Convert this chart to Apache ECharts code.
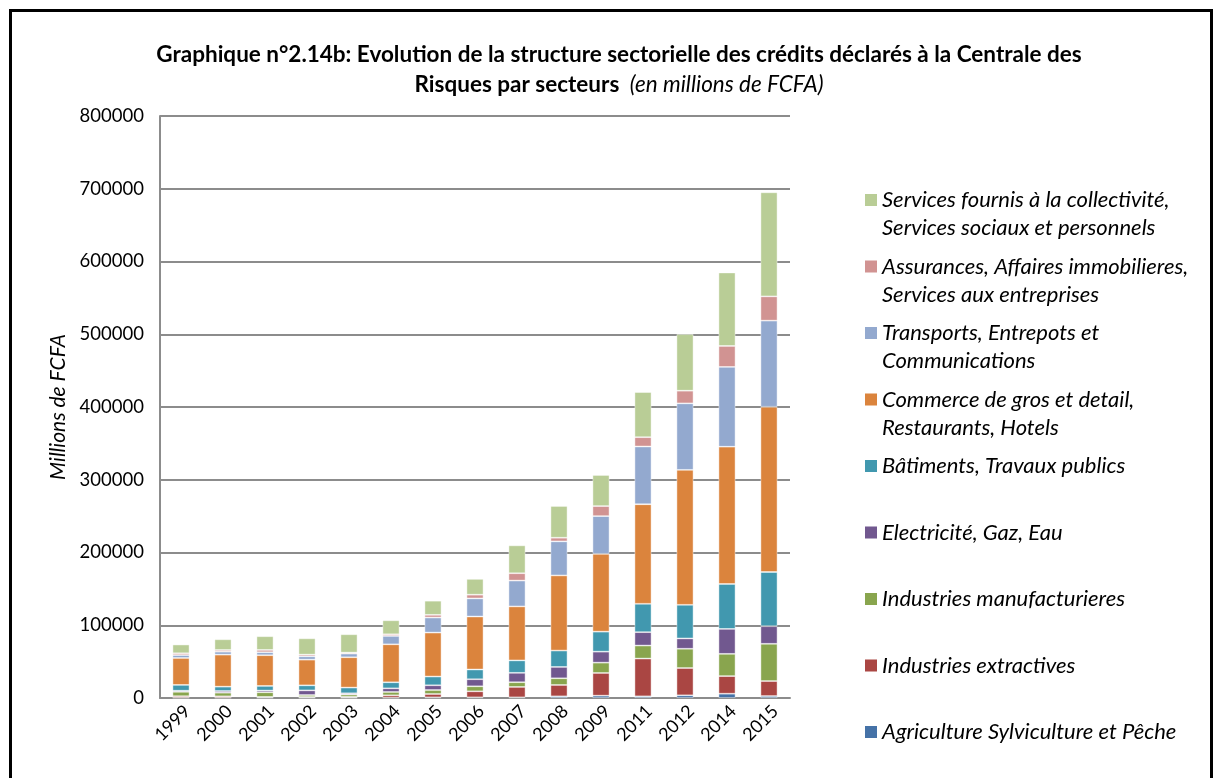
<!DOCTYPE html>
<html>
<head>
<meta charset="utf-8">
<script src="https://cdn.jsdelivr.net/npm/echarts@6/dist/echarts.min.js"></script>
<style>
  html, body { margin: 0; padding: 0; background: #fff; }
  #chart { width: 1213px; height: 778px; position: absolute; left: 0; top: 0; }
  #frame { position: absolute; left: 9px; top: 9px; width: 1198px; height: 800px;
           border-left: 3px solid #000; border-top: 3px solid #000; border-right: 3px solid #000; pointer-events: none; }
</style>
</head>
<body>
<div id="chart"></div>
<div id="frame"></div>
<script>
const years = ['1999','2000','2001','2002','2003','2004','2005','2006','2007','2008','2009','2011','2012','2014','2015'];

const agriculture = [500, 500, 500, 500, 500, 500, 900, 900, 900, 2300, 3200, 2300, 3700, 5900, 2700];
const extractives = [2000, 1800, 1000, 900, 1000, 3200, 4600, 8300, 14300, 15600, 31200, 51900, 37500, 24200, 20600];
const manufacturieres = [6000, 5000, 6400, 2700, 3200, 4600, 5500, 6900, 6500, 9200, 14200, 17900, 26500, 30600, 51200];
const electricite = [1500, 2300, 2300, 6400, 1800, 5000, 6500, 9700, 12900, 15600, 15100, 18400, 14200, 34300, 24200];
const batiments = [8000, 6000, 6400, 6900, 7800, 8300, 12000, 13400, 17100, 22500, 27500, 39000, 46200, 61700, 74500];
const commerce = [37000, 44000, 42200, 35300, 41700, 52200, 60400, 72800, 74200, 103300, 106900, 136800, 185500, 188700, 227100];
const transports = [4000, 4100, 4100, 4600, 5000, 11500, 20700, 24900, 35500, 46800, 51900, 79400, 91400, 109700, 118400];
const assurances = [2500, 2300, 3200, 2300, 1400, 2300, 3700, 5100, 10100, 5000, 13800, 12800, 17400, 28800, 33400];
const services = [12000, 14700, 18800, 22400, 25200, 19200, 19400, 21700, 38300, 43600, 42700, 62000, 77700, 101000, 143000];

const seriesNames = [
  'Agriculture Sylviculture et Pêche',
  'Industries extractives',
  'Industries manufacturieres',
  'Electricité, Gaz, Eau',
  'Bâtiments, Travaux publics',
  'Commerce de gros et detail, Restaurants, Hotels',
  'Transports, Entrepots et Communications',
  'Assurances, Affaires immobilieres, Services aux entreprises',
  'Services fournis à la collectivité, Services sociaux et personnels'
];
const legendLabels = [
  'Agriculture Sylviculture et Pêche\n ',
  'Industries extractives\n ',
  'Industries manufacturieres\n ',
  'Electricité, Gaz, Eau\n ',
  'Bâtiments, Travaux publics\n ',
  'Commerce de gros et detail,\nRestaurants, Hotels',
  'Transports, Entrepots et\nCommunications',
  'Assurances, Affaires immobilieres,\nServices aux entreprises',
  'Services fournis à la collectivité,\nServices sociaux et personnels'
];
const seriesData = [agriculture, extractives, manufacturieres, electricite, batiments, commerce, transports, assurances, services];
const colors = ['#4572A7', '#AA4643', '#89A54E', '#71588F', '#4198AF', '#DB843D', '#93A9CF', '#D19392', '#B9CD96'];

const yTicks = { min: 0, max: 800000, interval: 100000 };

const FONT = 'Lato, "Open Sans", sans-serif';

const chart = echarts.init(document.getElementById('chart'), null, { renderer: 'canvas' });

const series = seriesNames.map((name, i) => ({
  name: name,
  type: 'bar',
  stack: 'total',
  barWidth: 17,
  data: seriesData[i],
  itemStyle: { color: colors[i], borderColor: 'rgba(255,255,255,0.55)', borderWidth: 0.8 }
}));

chart.setOption({
  animation: false,
  color: colors,
  title: {
    left: 614,
    top: 35,
    textAlign: 'center',
    text: '{b|Graphique n°2.14b: Evolution de la structure sectorielle des crédits déclarés à la Centrale des}\n{b|Risques par secteurs}{i|  (en millions de FCFA)}',
    textStyle: {
      rich: {
        b: { fontFamily: FONT, fontWeight: 'bold', fontSize: 22.5, color: '#000', lineHeight: 30 },
        i: { fontFamily: FONT, fontStyle: 'italic', fontWeight: 'normal', fontSize: 22.5, color: '#000', lineHeight: 30 }
      }
    }
  },
  grid: { left: 160, right: 423, top: 116, bottom: 80, containLabel: false },
  legend: {
    orient: 'vertical',
    left: 865,
    top: 186,
    height: 590,
    padding: 0,
    data: seriesNames.slice().reverse(),
    formatter: function (name) { return legendLabels[seriesNames.indexOf(name)]; },
    icon: 'path://M0,0H10V10H0Z M0,33.3H0.01V33.31H0Z',
    itemWidth: 12,
    itemHeight: 40,
    itemGap: 10.5,
    selectedMode: false,
    itemStyle: { borderWidth: 0 },
    textStyle: { fontFamily: FONT, fontStyle: 'italic', fontSize: 22, color: '#000', lineHeight: 28, padding: [0, 0, 0, 0] }
  },
  xAxis: {
    type: 'category',
    data: years,
    axisLine: { show: true, lineStyle: { color: '#8c8c8c', width: 2 } },
    axisTick: { show: false },
    axisLabel: { rotate: 45, fontFamily: FONT, fontSize: 18, color: '#000', margin: 4, verticalAlign: 'top', interval: 0 }
  },
  yAxis: {
    type: 'value',
    min: yTicks.min,
    max: yTicks.max,
    interval: yTicks.interval,
    name: 'Millions de FCFA',
    nameLocation: 'middle',
    nameGap: 90,
    nameRotate: 90,
    nameTextStyle: { fontFamily: FONT, fontStyle: 'italic', fontSize: 21, color: '#000' },
    axisLine: { show: true, lineStyle: { color: '#8c8c8c', width: 2 } },
    axisTick: { show: false },
    axisLabel: { fontFamily: FONT, fontSize: 18.5, color: '#000', margin: 16, formatter: function (v) { return String(v); } },
    splitLine: { show: true, lineStyle: { color: '#8c8c8c', width: 2 } }
  },
  series: series
});
</script>
</body>
</html>
